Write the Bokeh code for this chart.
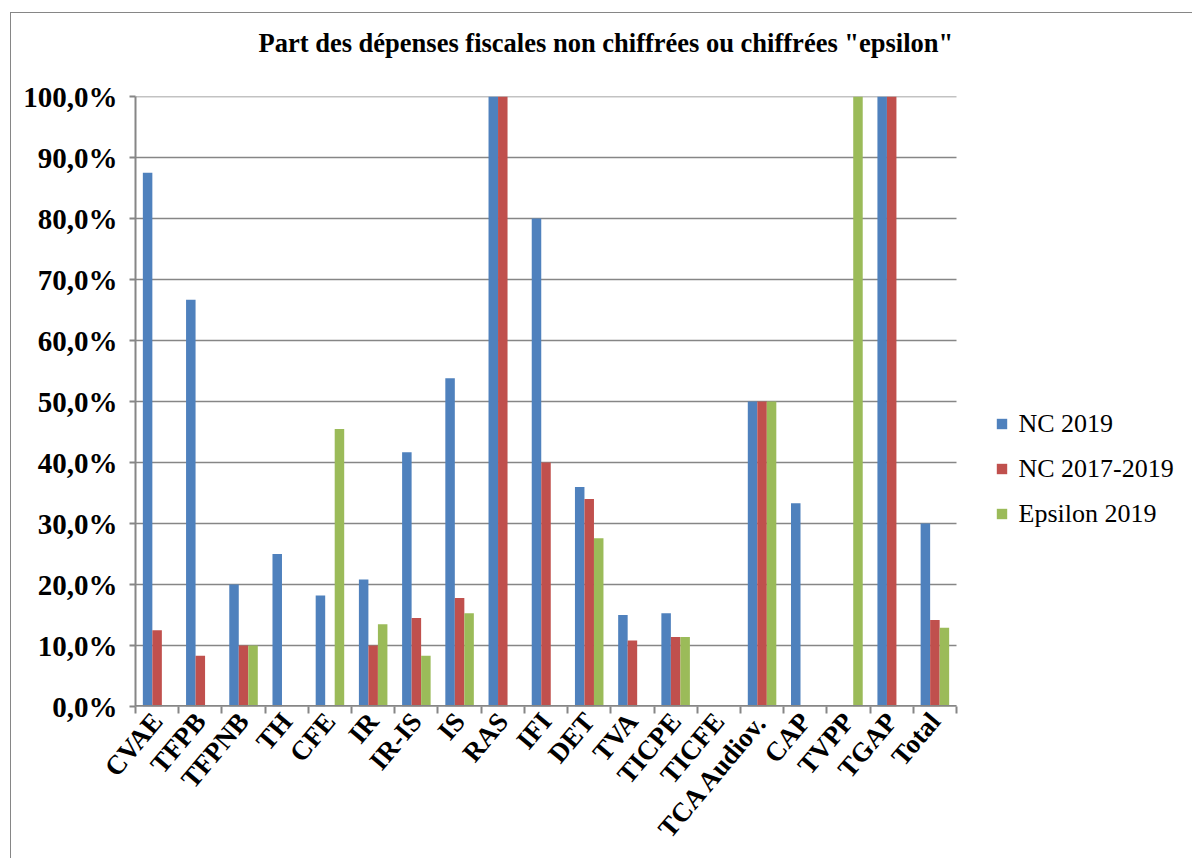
import math
from bokeh.plotting import figure
from bokeh.models import (FixedTicker, CustomJSTickFormatter, Legend, LegendItem,
                          Title, Range1d, Label)
from bokeh.embed import file_html
from bokeh.resources import INLINE

title_text = 'Part des dépenses fiscales non chiffrées ou chiffrées "epsilon"'
categories = ["CVAE", "TFPB", "TFPNB", "TH", "CFE", "IR", "IR-IS", "IS", "RAS", "IFI",
              "DET", "TVA", "TICPE", "TICFE", "TCA Audiov.", "CAP", "TVPP", "TGAP", "Total"]
series_names = ["NC 2019", "NC 2017-2019", "Epsilon 2019"]
nc_2019 = [87.5, 66.7, 20.0, 25.0, 18.2, 20.8, 41.7, 53.8, 100.0, 80.0,
           36.0, 15.0, 15.3, 0.0, 50.0, 33.3, 0.0, 100.0, 30.0]
nc_2017_2019 = [12.5, 8.3, 10.0, 0.0, 0.0, 10.0, 14.5, 17.8, 100.0, 40.0,
                34.0, 10.8, 11.4, 0.0, 50.0, 0.0, 0.0, 100.0, 14.2]
epsilon_2019 = [0.0, 0.0, 10.0, 0.0, 45.5, 13.5, 8.3, 15.3, 0.0, 0.0,
                27.6, 0.0, 11.4, 0.0, 50.0, 0.0, 100.0, 0.0, 12.9]
y_ticks = [0, 10, 20, 30, 40, 50, 60, 70, 80, 90, 100]

colors = ["#4F81BD", "#C0504D", "#9BBB59"]
SERIF = "Liberation Serif"
GRAY = "#868686"

W, H = 1182, 846
L, R, T, B = 124, 4, 83, 153
PLOT_PX = 821.0  # pixel width of the category area

n = len(categories)
frame_w = W - L - R
x_end = -0.5 + n * frame_w / PLOT_PX
p = figure(width=W, height=H, output_backend="svg", toolbar_location=None,
           x_range=Range1d(-0.5, x_end), y_range=Range1d(0, 100),
           min_border_left=L, min_border_right=R, min_border_top=T, min_border_bottom=B,
           title=None)
p.margin = (12, 0, 0, 10)
p.styles = {"border-top": "1.5px solid #868686", "border-left": "1.5px solid #868686"}
p.outline_line_color = None
p.xgrid.grid_line_color = None
p.ygrid.grid_line_color = None

# gridlines across the category area only
p.segment(x0=[-0.5] * len(y_ticks), x1=[n - 0.5] * len(y_ticks), y0=y_ticks, y1=y_ticks,
          line_color=GRAY, line_width=1.5)

bw = 0.22
offsets = [-bw, 0.0, bw]
renderers = []
for vals, off, c in zip([nc_2019, nc_2017_2019, epsilon_2019], offsets, colors):
    xs = [i + off for i in range(n) if vals[i] > 0]
    tops = [v for v in vals if v > 0]
    r = p.vbar(x=xs, top=tops, width=bw, bottom=0, fill_color=c, line_color=None)
    renderers.append(r)

# x baseline
p.segment(x0=[-0.5], x1=[n - 0.5], y0=[0], y1=[0], line_color=GRAY, line_width=3)

# axes
xa = p.xaxis[0]
xa.ticker = FixedTicker(ticks=list(range(n)), minor_ticks=[i - 0.5 for i in range(n + 1)])
xa.major_label_overrides = {i: c for i, c in enumerate(categories)}
xa.major_label_orientation = math.radians(50)
xa.major_tick_out = 0
xa.major_tick_in = 0
xa.minor_tick_out = 7
xa.minor_tick_in = 0
xa.minor_tick_line_color = GRAY
xa.minor_tick_line_width = 2
xa.axis_line_color = None
xa.major_label_text_font = SERIF
xa.major_label_text_font_style = "bold"
xa.major_label_text_font_size = "27px"
xa.major_label_text_color = "black"
xa.major_label_standoff = 3

ya = p.yaxis[0]
ya.ticker = FixedTicker(ticks=y_ticks)
ya.formatter = CustomJSTickFormatter(code="return tick.toFixed(1).replace('.', ',') + '%';")
ya.major_tick_out = 6
ya.major_tick_in = 0
ya.minor_tick_out = 0
ya.minor_tick_in = 0
ya.major_tick_line_color = GRAY
ya.major_tick_line_width = 2
ya.axis_line_color = GRAY
ya.axis_line_width = 2
ya.major_label_text_font = SERIF
ya.major_label_text_font_style = "bold"
ya.major_label_text_font_size = "29px"
ya.major_label_text_color = "black"
ya.major_label_standoff = 12

# title (first added = closest to frame: spacer)
p.add_layout(Title(text=" ", text_font_size="20px"), "above")
t = Title(text=title_text, align="left", offset=123,
          text_font=SERIF, text_font_style="bold", text_font_size="26.5px",
          text_color="black")
p.add_layout(t, "above")

# legend swatches
LEG_TOP = 283   # px above frame bottom of first legend row centre
LEG_STEP = 45
ROW_H = 30
legend = Legend(items=[LegendItem(label=" ", renderers=[r]) for r in renderers],
                location=(860, LEG_TOP + ROW_H // 2 - 3 * ROW_H - 2 * (LEG_STEP - ROW_H)),
                orientation="vertical")
legend.glyph_width = 13
legend.glyph_height = 13
legend.label_standoff = 0
legend.label_width = 1
legend.label_height = ROW_H
legend.label_text_font_size = "10px"
legend.spacing = LEG_STEP - ROW_H
legend.padding = 0
legend.margin = 0
legend.border_line_color = None
legend.background_fill_color = None
p.add_layout(legend, "center")

# legend texts (serif)
for i, s in enumerate(series_names):
    p.add_layout(Label(x=883, y=LEG_TOP - i * LEG_STEP, x_units="screen", y_units="screen",
                       text=s, text_font=SERIF, text_font_size="26px",
                       text_color="black", text_baseline="middle", text_align="left"))

open("out.html", "w").write(file_html(p, INLINE))
